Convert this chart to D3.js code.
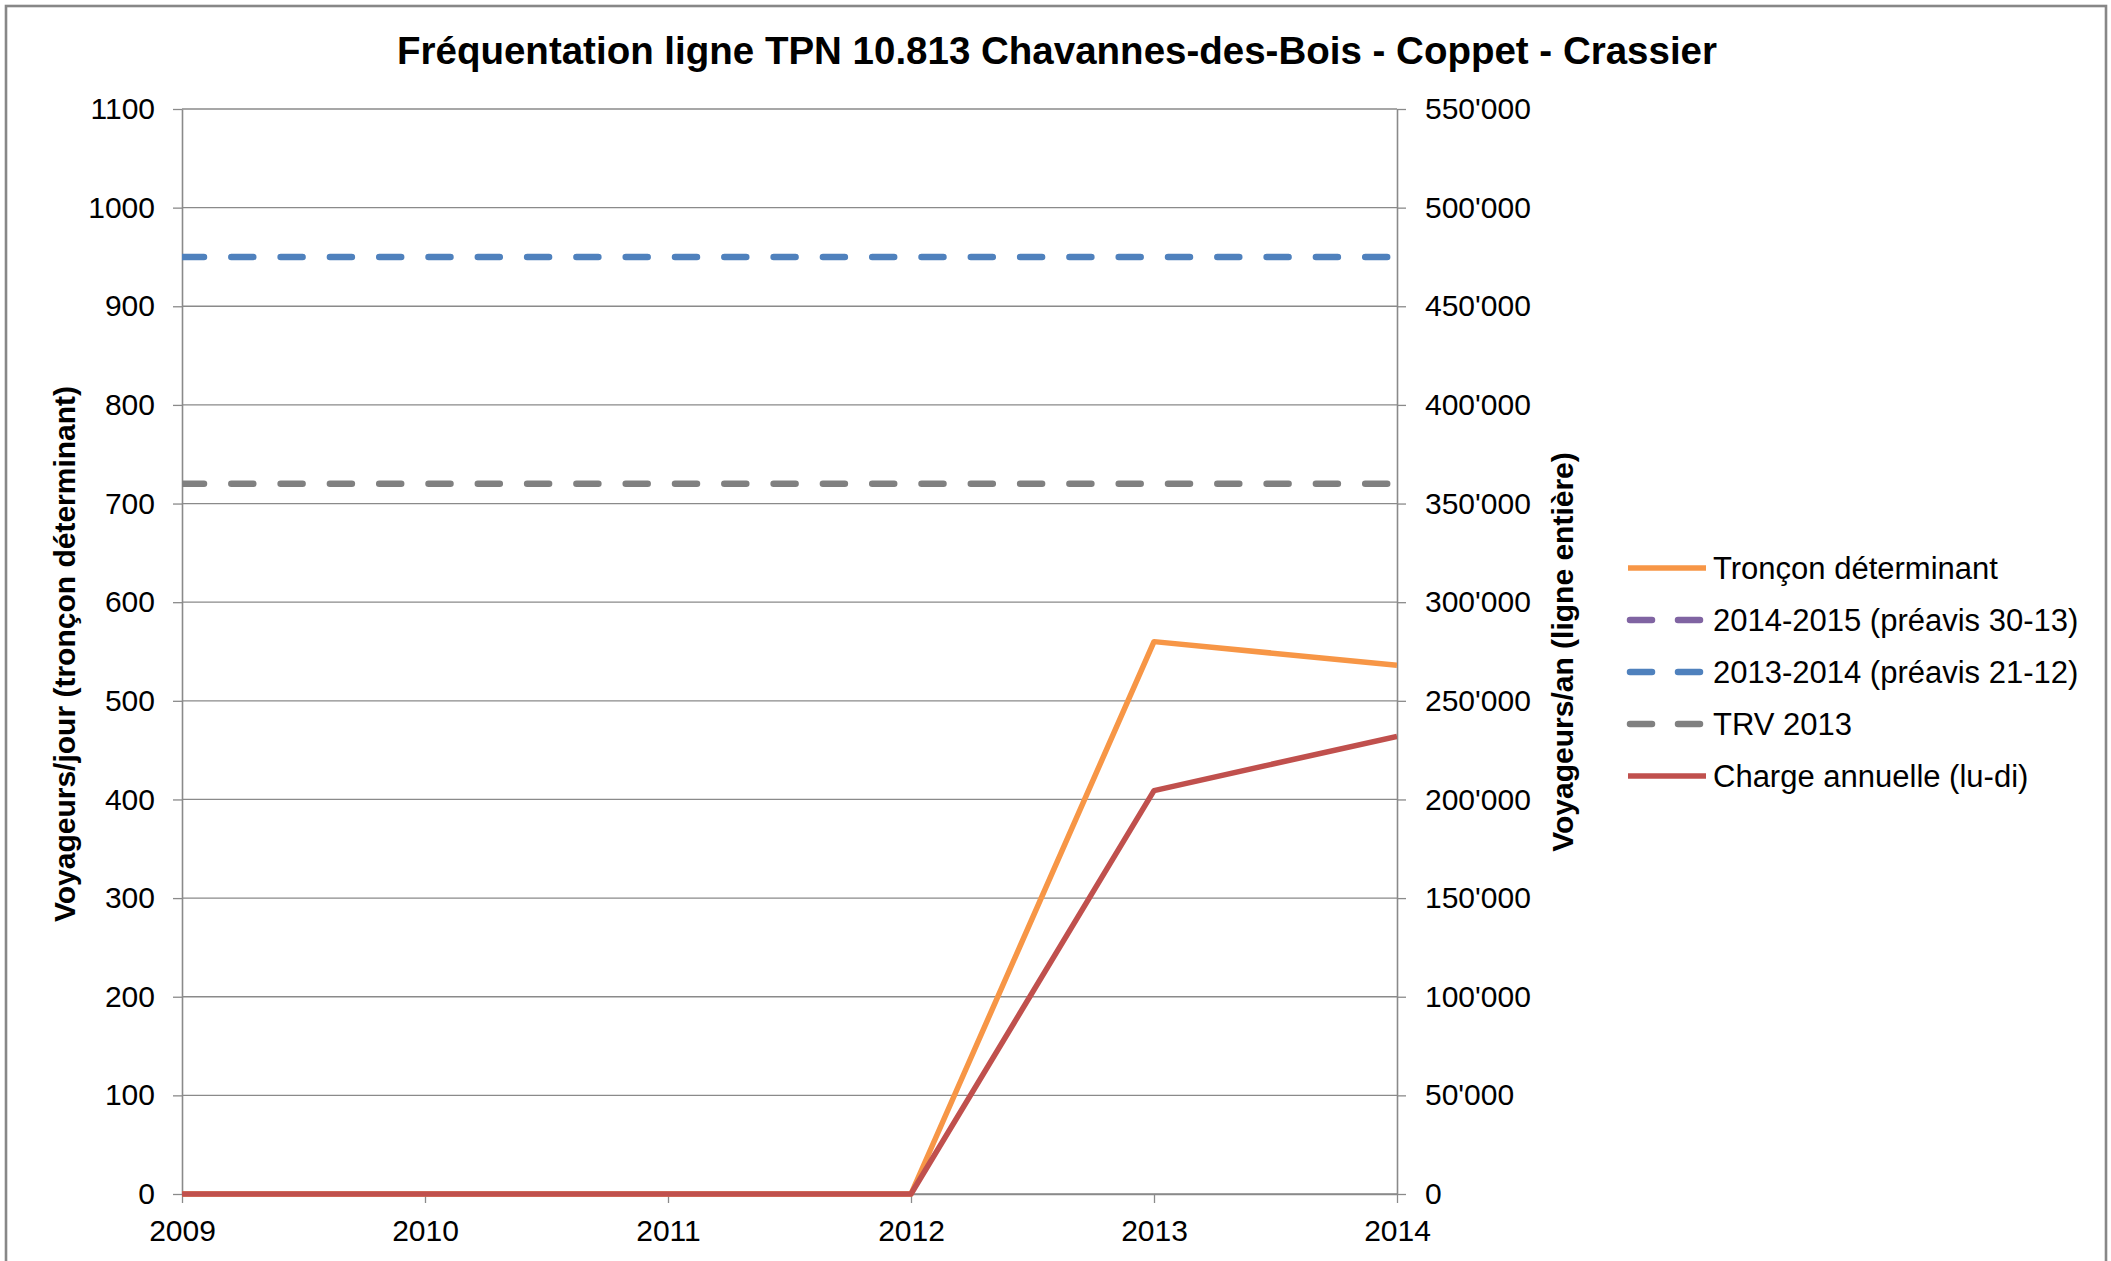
<!DOCTYPE html>
<html>
<head>
<meta charset="utf-8">
<script src="https://cdn.jsdelivr.net/npm/d3@7"></script>
<style>
  html, body { margin: 0; padding: 0; background: #fff; }
  svg text { font-family: "Liberation Sans", Arial, sans-serif; }
</style>
</head>
<body>
<script>
// ---- data ----
const years = [2009, 2010, 2011, 2012, 2013, 2014];
const tronconDeterminant = [0, 0, 0, 0, 560, 536];          // voyageurs/jour (left axis)
const preavis2014_2015 = [null, null, null, null, null, null]; // no visible values
const preavis2013_2014 = [950, 950, 950, 950, 950, 950];     // left axis
const trv2013 = [720, 720, 720, 720, 720, 720];              // left axis
const chargeAnnuelle = [0, 0, 0, 0, 204500, 232000];         // voyageurs/an (right axis)
const leftTicks = [0, 100, 200, 300, 400, 500, 600, 700, 800, 900, 1000, 1100];
const rightTicks = [0, 50000, 100000, 150000, 200000, 250000, 300000, 350000, 400000, 450000, 500000, 550000];
const legendLabels = ["Tronçon déterminant", "2014-2015 (préavis 30-13)", "2013-2014 (préavis 21-12)", "TRV 2013", "Charge annuelle (lu-di)"];
const titleText = "Fréquentation ligne TPN 10.813 Chavannes-des-Bois - Coppet - Crassier";
const leftTitle = "Voyageurs/jour (tronçon déterminant)";
const rightTitle = "Voyageurs/an (ligne entière)";

const W = 2111, H = 1261;
const plot = { left: 182, right: 1397, top: 109, bottom: 1194 };
const gridColor = "#8a8a8a";

const svg = d3.select("body").append("svg").attr("width", W).attr("height", H);
svg.append("rect").attr("width", W).attr("height", H).attr("fill", "#fff");
// outer chart border
svg.append("rect").attr("x", 6).attr("y", 6).attr("width", 2100).attr("height", 1320)
  .attr("fill", "none").attr("stroke", "#878787").attr("stroke-width", 2.6);

const x = d3.scaleLinear().domain([2009, 2014]).range([plot.left, plot.right]);
const yL = d3.scaleLinear().domain([0, 1100]).range([plot.bottom, plot.top]);
const yR = d3.scaleLinear().domain([0, 550000]).range([plot.bottom, plot.top]);

// title
svg.append("text").attr("x", 1057).attr("y", 64).attr("text-anchor", "middle")
  .attr("font-size", 38.5).attr("font-weight", "bold").attr("fill", "#000").text(titleText);

// gridlines
svg.append("g").selectAll("line").data(leftTicks).join("line")
  .attr("x1", plot.left).attr("x2", plot.right)
  .attr("y1", d => yL(d)).attr("y2", d => yL(d))
  .attr("stroke", gridColor).attr("stroke-width", 1.3);

function styleAxis(g) {
  g.selectAll(".domain").attr("stroke", gridColor).attr("stroke-width", 1.6);
  g.selectAll(".tick line").attr("stroke", gridColor).attr("stroke-width", 1.3);
  g.selectAll(".tick text").attr("font-size", 30).attr("fill", "#000")
    .attr("font-family", "'Liberation Sans', Arial, sans-serif");
}

const gL = svg.append("g").attr("transform", `translate(${plot.left},0)`)
  .call(d3.axisLeft(yL).tickValues(leftTicks).tickSize(9).tickSizeOuter(0).tickPadding(18).tickFormat(d3.format("d")));
styleAxis(gL);

const fmtR = d => d === 0 ? "0" : d3.format(",")(d).replace(/,/g, "'");
const gR = svg.append("g").attr("transform", `translate(${plot.right},0)`)
  .call(d3.axisRight(yR).tickValues(rightTicks).tickSize(9).tickSizeOuter(0).tickPadding(19).tickFormat(fmtR));
styleAxis(gR);

const gX = svg.append("g").attr("transform", `translate(0,${plot.bottom})`)
  .call(d3.axisBottom(x).tickValues(years).tickSize(9).tickSizeOuter(0).tickPadding(17).tickFormat(d3.format("d")));
styleAxis(gX);

// axis titles
svg.append("text").attr("transform", "translate(64,654) rotate(-90)")
  .attr("text-anchor", "middle").attr("dominant-baseline", "central")
  .attr("font-size", 30).attr("font-weight", "bold").attr("fill", "#000").text(leftTitle);
svg.append("text").attr("transform", "translate(1562,652) rotate(-90)")
  .attr("text-anchor", "middle").attr("dominant-baseline", "central")
  .attr("font-size", 30).attr("font-weight", "bold").attr("fill", "#000").text(rightTitle);

// clip
svg.append("clipPath").attr("id", "plotclip").append("rect")
  .attr("x", plot.left).attr("y", plot.top - 10).attr("width", plot.right - plot.left).attr("height", plot.bottom - plot.top + 20);

const series = [
  { name: legendLabels[0], values: tronconDeterminant, y: yL, color: "#F79646", dash: null, w: 5.5 },
  { name: legendLabels[1], values: preavis2014_2015, y: yL, color: "#8064A2", dash: "22,27.3", w: 6.5 },
  { name: legendLabels[2], values: preavis2013_2014, y: yL, color: "#4F81BD", dash: "22,27.3", w: 6.5 },
  { name: legendLabels[3], values: trv2013, y: yL, color: "#808080", dash: "22,27.3", w: 6.5 },
  { name: legendLabels[4], values: chargeAnnuelle, y: yR, color: "#C0504D", dash: null, w: 5.5 }
];

const linesG = svg.append("g").attr("clip-path", "url(#plotclip)");
series.forEach(s => {
  const line = d3.line().defined(d => d[1] != null).x(d => x(d[0])).y(d => s.y(d[1]));
  const pts = years.map((yr, i) => [yr, s.values[i]]);
  linesG.append("path").datum(pts).attr("d", line)
    .attr("fill", "none").attr("stroke", s.color).attr("stroke-width", s.w)
    .attr("stroke-linejoin", "round")
    .attr("stroke-linecap", s.dash ? "round" : "butt")
    .attr("stroke-dasharray", s.dash);
});

// legend
const leg = svg.append("g");
series.forEach((s, i) => {
  const yy = 568 + i * 52;
  if (s.dash) {
    leg.append("line").attr("x1", 1630).attr("x2", 1706).attr("y1", yy).attr("y2", yy)
      .attr("stroke", s.color).attr("stroke-width", s.w).attr("stroke-linecap", "round")
      .attr("stroke-dasharray", "22,26");
  } else {
    leg.append("line").attr("x1", 1628).attr("x2", 1706).attr("y1", yy).attr("y2", yy)
      .attr("stroke", s.color).attr("stroke-width", s.w);
  }
  leg.append("text").attr("x", 1713).attr("y", yy).attr("dy", "0.35em")
    .attr("font-size", 31).attr("fill", "#000").text(s.name);
});
</script>
</body>
</html>
